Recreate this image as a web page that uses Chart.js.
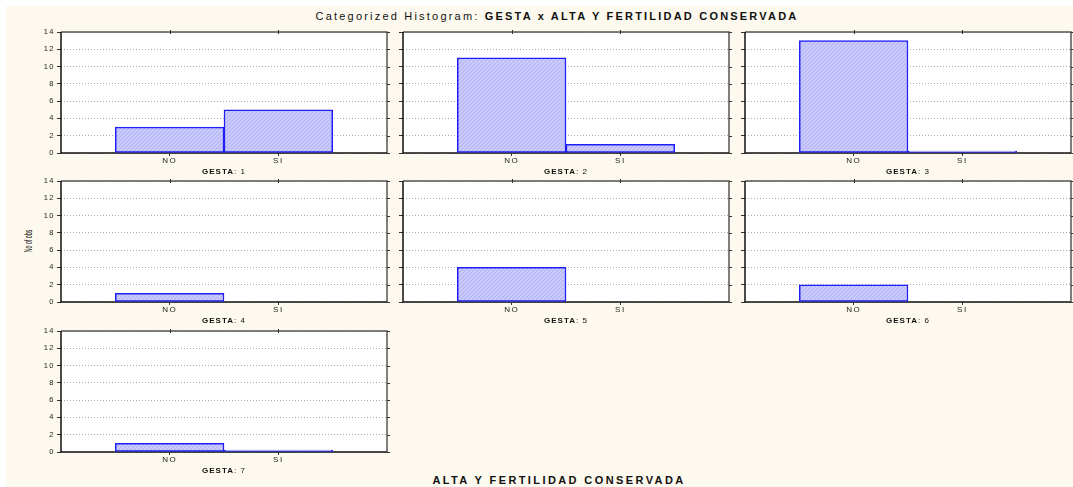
<!DOCTYPE html>
<html>
<head>
<meta charset="utf-8">
<script src="https://cdn.jsdelivr.net/npm/chart.js@4/dist/chart.umd.min.js"></script>
<style>
  html, body { margin: 0; padding: 0; background: #ffffff; width: 1073px; height: 487px; overflow: hidden; font-family: "Liberation Sans", Arial, sans-serif; }
  #bg { position: absolute; left: 6px; top: 6px; right: 0; bottom: 0; background: #fdf9ee; }
  canvas { position: absolute; }
  .t { position: absolute; white-space: nowrap; color: #111; text-align: center; }
  #title { left: 0; width: 1114px; top: 10px; font-size: 11px; letter-spacing: 2.2px; }
  #xlabel { left: 0; width: 1118px; top: 474px; font-size: 11px; font-weight: bold; letter-spacing: 2.4px; }
  #ylabel { left: 3px; top: 235px; width: 50px; font-size: 10.5px; transform: rotate(-90deg) scaleX(0.5); }
  .sub { font-size: 8px; letter-spacing: 1px; }
  .sub b { font-weight: bold; }
</style>
</head>
<body>
<div id="bg"></div>
<div class="t" id="title">Categorized Histogram: <b>GESTA x ALTA Y FERTILIDAD CONSERVADA</b></div>
<div class="t" id="xlabel">ALTA Y FERTILIDAD CONSERVADA</div>
<div class="t" id="ylabel">No of obs</div>
<script>
// ---- data ----
const categories = ['NO', 'SI'];
const gestaValues = ['1', '2', '3', '4', '5', '6', '7'];
const noCounts = [3, 11, 13, 1, 4, 2, 1];
const siCounts = [5, 1, 0, null, null, null, 0];
const yMax = 14;
const yStep = 2;

// ---- layout ----
const colLeft = [61, 403, 745];
const rowTop = [32, 181, 331];
const plotW = 326, plotH = 121;
const padL = 40, padT = 8, padR = 8, padB = 16;

// hatch pattern
function makePattern() {
  const c = document.createElement('canvas');
  c.width = 4; c.height = 4;
  const g = c.getContext('2d');
  g.fillStyle = '#c9c9fb';
  g.fillRect(0, 0, 4, 4);
  g.fillStyle = '#b0b0f4';
  for (let i = 0; i < 4; i++) g.fillRect(i, 3 - i, 1, 1);
  return g.createPattern(c, 'repeat');
}

const framePlugin = {
  id: 'frame',
  beforeDraw(chart) {
    const a = chart.chartArea, ctx = chart.ctx;
    ctx.save();
    ctx.fillStyle = '#ffffff';
    ctx.fillRect(a.left, a.top, a.right - a.left, a.bottom - a.top);
    ctx.restore();
    chart.ctx.letterSpacing = '1.5px';
  },
  beforeDatasetsDraw(chart) {
    const a = chart.chartArea, ctx = chart.ctx;
    const ys = chart.scales.y, xs = chart.scales.x;
    ctx.save();
    ctx.letterSpacing = '0px';
    ctx.lineWidth = 1.5;
    ctx.strokeStyle = '#555555';
    ctx.beginPath();
    ctx.moveTo(a.left, a.top); ctx.lineTo(a.right, a.top); ctx.lineTo(a.right, a.bottom);
    ctx.stroke();
    ctx.strokeStyle = '#111111';
    ctx.beginPath();
    ctx.moveTo(a.left, a.top); ctx.lineTo(a.left, a.bottom); ctx.lineTo(a.right, a.bottom);
    ctx.stroke();
    ctx.lineWidth = 1;
    ctx.strokeStyle = '#333333';
    ys.ticks.forEach(t => {
      const y = Math.round(ys.getPixelForValue(t.value)) + 0.5;
      ctx.beginPath(); ctx.moveTo(a.right, y); ctx.lineTo(a.right + 3, y); ctx.stroke();
    });
    [1, 2].forEach(v => {
      const x = Math.round(xs.getPixelForValue(v)) + 0.5;
      ctx.beginPath(); ctx.moveTo(x, a.top - 2); ctx.lineTo(x, a.top + 2); ctx.stroke();
    });
    ctx.restore();
  }
};

const pattern = makePattern();

gestaValues.forEach((g, i) => {
  const col = i % 3, row = Math.floor(i / 3);
  const L = colLeft[col], T = rowTop[row];
  const cv = document.createElement('canvas');
  cv.width = padL + plotW + padR;
  cv.height = padT + plotH + padB;
  cv.style.left = (L - padL) + 'px';
  cv.style.top = (T - padT) + 'px';
  document.body.appendChild(cv);

  const sub = document.createElement('div');
  sub.className = 't sub';
  sub.style.left = L + 'px';
  sub.style.width = plotW + 'px';
  sub.style.top = (T + plotH + 14) + 'px';
  sub.innerHTML = '<b>GESTA</b>: ' + g;
  document.body.appendChild(sub);

  const vals = [noCounts[i], siCounts[i]];
  const pts = [];
  categories.forEach((c, k) => { if (vals[k] !== null) pts.push({ x: k + 1, y: vals[k] }); });

  new Chart(cv, {
    type: 'bar',
    data: {
      datasets: [{
        data: pts,
        backgroundColor: pattern,
        borderColor: '#2020f5',
        borderWidth: 1.5,
        borderSkipped: false,
        minBarLength: 2,
        barPercentage: 1,
        categoryPercentage: 1,
        barThickness: plotW / 3
      }]
    },
    options: {
      responsive: false,
      animation: false,
      events: [],
      layout: { padding: { left: 0, top: padT, right: padR, bottom: 0 } },
      plugins: { legend: { display: false }, tooltip: { enabled: false }, title: { display: false } },
      scales: {
        x: {
          type: 'linear',
          offset: false,
          min: 0, max: 3,
          afterFit: s => { s.height = padB; },
          afterBuildTicks: s => { s.ticks = [1, 2].map(v => ({ value: v })); },
          ticks: {
            autoSkip: false,
            maxRotation: 0,
            padding: 0,
            color: '#222',
            font: { family: 'Liberation Sans', size: 8 },
            callback: v => categories[v - 1] || ''
          },
          grid: { offset: false, drawOnChartArea: false, drawTicks: true, tickLength: 3, tickColor: '#333', tickWidth: 1 },
          border: { display: false }
        },
        y: {
          min: 0, max: yMax,
          afterFit: s => { s.width = padL; },
          ticks: {
            display: col === 0,
            stepSize: yStep,
            padding: 2,
            color: '#1a1a1a',
            font: { family: 'Liberation Sans', size: 7.5 }
          },
          grid: { color: '#ababab', lineWidth: 1, drawTicks: true, tickLength: 4, tickColor: '#333', tickBorderDash: [], borderDash: [1, 2] },
          border: { display: false, dash: [1, 2] }
        }
      }
    },
    plugins: [framePlugin]
  });
});
</script>
</body>
</html>
